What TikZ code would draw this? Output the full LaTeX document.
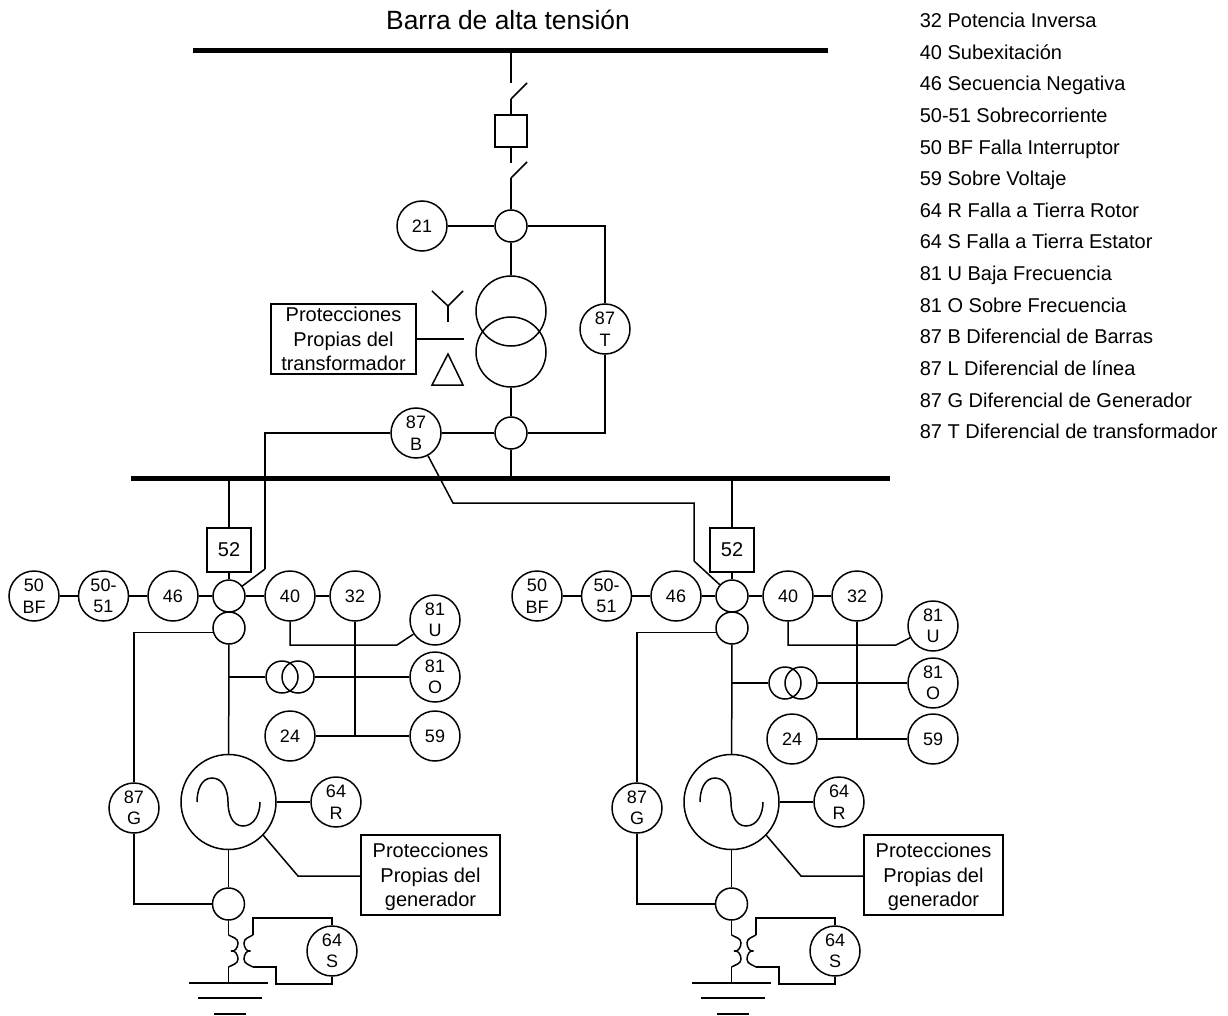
\documentclass[tikz,border=0pt]{standalone}
\usepackage{fontspec}
\setmainfont{Liberation Sans}
\usetikzlibrary{positioning}
\tikzset{
  relay/.style={circle, draw, minimum size=50pt, inner sep=0pt, align=center, font=\fontsize{18}{21.5}\selectfont},
  ct/.style={circle, draw, minimum size=32pt, inner sep=0pt},
  caja/.style={draw, inner sep=0pt, align=center, font=\fontsize{20}{24.3}\selectfont},
  leyenda/.style={anchor=base west, inner sep=0pt, font=\fontsize{20}{24}\selectfont},
  barra/.style={line width=5pt}
}
\begin{document}
\begin{tikzpicture}[x=1pt, y=-1pt, line width=1.5pt, on grid]
      \useasboundingbox (0,0) rectangle (1228,1016);

      % Legend
      \node[leyenda] (ley1) at (919,27.5) {32 Potencia Inversa};
      \node[leyenda] (ley2) at (919,59.5) {40 Subexitación};
      \node[leyenda] (ley3) at (919,90.5) {46 Secuencia Negativa};
      \node[leyenda] (ley4) at (919,122.5) {50-51 Sobrecorriente};
      \node[leyenda] (ley5) at (919,154.5) {50 BF Falla Interruptor};
      \node[leyenda] (ley6) at (919,185.5) {59 Sobre Voltaje};
      \node[leyenda] (ley7) at (919,217.5) {64 R Falla a Tierra Rotor};
      \node[leyenda] (ley8) at (919,248.5) {64 S Falla a Tierra Estator};
      \node[leyenda] (ley9) at (919,280.5) {81 U Baja Frecuencia};
      \node[leyenda] (ley10) at (919,312.5) {81 O Sobre Frecuencia};
      \node[leyenda] (ley11) at (919,343.5) {87 B Diferencial de Barras};
      \node[leyenda] (ley12) at (919,375.5) {87 L Diferencial de línea};
      \node[leyenda] (ley13) at (919,407.5) {87 G Diferencial de Generador};
      \node[leyenda] (ley14) at (919,438.5) {87 T Diferencial de transformador};

      % Nodes for the high voltage side
      \node[font=\fontsize{26.4}{30}\selectfont] (titulo) at (508,20) {Barra de alta tensión};
      \coordinate (alta1) at (193,51);
      \coordinate (alta2) at (828,51);
      \coordinate (altasal) at (511,51);
      \coordinate (secc1a) at (511,83);
      \coordinate (secc1b) at (511,99);
      \coordinate (secc1c) at (527,83);
      \node[draw, minimum size=32pt, inner sep=0pt] (inter) at (511,131) {};
      \coordinate (secc2a) at (511,163);
      \coordinate (secc2b) at (511,178);
      \coordinate (secc2c) at (527,162);
      \node[ct] (cttop) at (511,226) {};
      \node[relay] (dist) [left=89pt of cttop] {21};
      \coordinate (codot) at (605,226);
      \node[circle, draw, minimum size=70pt, inner sep=0pt] (trafo1) at (511,311) {};
      \node[circle, draw, minimum size=70pt, inner sep=0pt] (trafo2) [below=41pt of trafo1] {};
      \node[relay] (dift) at (605,329) {87\\T};
      \node[ct] (ctbot) at (511,433) {};
      \node[relay] (difb) [left=95pt of ctbot] {87\\B};
      \node[caja, minimum width=145pt, minimum height=70pt] (protrafo) at (343.5,339) {Protecciones\\Propias del\\transformador};
      \coordinate (protsal) at (464,339);
      \coordinate (estrella) at (448,306);

      % Main bus
      \coordinate (bus1) at (131,478);
      \coordinate (bus2) at (890,478);
      \coordinate (buscen) at (511,478);
      \coordinate (busizq) at (229,478);
      \coordinate (busder) at (732,478);
      \coordinate (codo1) at (265,569);
      \coordinate (codo2) at (453,503);
      \coordinate (codo3) at (694,503);
      \coordinate (codo4) at (694,561);

      % Edges for the high voltage side
      \draw[barra] (alta1) -- (alta2);
      \draw[barra] (bus1) -- (bus2);
      \path
        (altasal) edge (secc1a)
        (secc1b) edge (secc1c)
        (secc1b) edge (inter)
        (inter) edge (secc2a)
        (secc2b) edge (secc2c)
        (secc2b) edge (cttop)
        (dist) edge (cttop)
        (cttop) edge (trafo1)
        (trafo2) edge (ctbot)
        (ctbot) edge (buscen)
        (difb) edge (ctbot)
        (protrafo.east |- protsal) edge (protsal);
      \draw (cttop) -- (codot) -- (dift);
      \draw (dift) |- (ctbot);
      \draw (difb) -| (codo1);
      \draw (difb) -- (codo2) -- (codo3) -- (codo4);

      % Winding symbols
      \draw (432,291) -- (estrella) -- (463,291);
      \draw (estrella) -- (448,322);
      \draw (448,354) -- (432,385) -- (463,385) -- cycle;

      % Nodes for generator 1
      \node[caja, minimum size=44pt, font=\fontsize{20}{24}\selectfont] (int1) at (229,550) {52};
      \node[ct] (cta1) at (229,596) {};
      \node[ct] (ctb1) [below=32pt of cta1] {};
      \node[relay] (neg1) [left=56pt of cta1] {46};
      \node[relay] (sob1) [left=69.5pt of neg1] {50-\\51};
      \node[relay] (bf1) [left=69.5pt of sob1] {50\\BF};
      \node[relay] (sub1) [right=61pt of cta1] {40};
      \node[relay] (pot1) [right=65pt of sub1] {32};
      \node[relay] (ufr1) at (435,620) {81\\U};
      \node[relay] (ofr1) at (435,677) {81\\O};
      \node[relay] (hz1) at (290,736) {24};
      \node[relay] (vol1) at (435,736) {59};
      \node[ct] (tma1) at (282,677) {};
      \node[ct] (tmb1) [right=16pt of tma1] {};
      \coordinate (ram1) at (229,677);
      \coordinate (cru1) at (355,736);
      \coordinate (cod1) at (397,645);
      \node[circle, draw, minimum size=95pt, inner sep=0pt] (gen1) at (228.5,802) {};
      \node[relay] (rot1) at (336,802) {64\\R};
      \node[relay] (dig1) at (134,808) {87\\G};
      \node[ct] (cte1) at (228.5,904) {};
      \node[relay] (est1) at (332,951) {64\\S};
      \node[caja, minimum width=139pt, minimum height=80pt] (prog1) at (430.5,875) {Protecciones\\Propias del\\\smash{generador}};
      \coordinate (pg1a) at (263,835);
      \coordinate (pg1b) at (298,876);
      \coordinate (pri1a) at (228.5,935);
      \coordinate (pri1b) at (228.5,967);
      \coordinate (tie1) at (228.5,983);
      \coordinate (sec1a) at (253,935);
      \coordinate (sec1b) at (253,967);
      \coordinate (ret1a) at (253,918);
      \coordinate (ret1b) at (276,967);
      \coordinate (ret1c) at (276,984);

      % Edges for generator 1
      \path
        (busizq) edge (int1)
        (int1) edge (cta1)
        (bf1) edge (sob1)
        (sob1) edge (neg1)
        (neg1) edge (cta1)
        (cta1) edge (sub1)
        (sub1) edge (pot1)
        (ctb1) edge (gen1)
        (ram1) edge (tma1)
        (tmb1) edge (ofr1)
        (hz1) edge (vol1)
        (pot1) edge (cru1)
        (gen1) edge (rot1)
        (gen1) edge (cte1)
        (cte1) edge (pri1a)
        (pri1b) edge (tie1);
      \draw (codo1) -- (cta1);
      \draw (sub1) |- (cod1) -- (ufr1);
      \draw (pg1a) -- (pg1b) -- (prog1.west |- pg1b);
      \draw (ctb1.195) -| (dig1);
      \draw (dig1) |- (cte1);
      \draw (sec1a) -- (ret1a) -| (est1);
      \draw (sec1b) -- (ret1b) -- (ret1c) -| (est1);

      % Symbols for generator 1
      \draw (197,802) to[out=90,in=180] (212,778) to[out=0,in=90] (228,802) to[out=-90,in=180] (243,826) to[out=0,in=-90] (260,802);
      \draw (pri1a) to[out=-30,in=90] (238,943) to[out=-90,in=-20] (231,951) to[out=20,in=90] (238,959) to[out=-90,in=30] (pri1b);
      \draw (sec1a) to[out=-150,in=90] (244,943) to[out=-90,in=-160] (250.5,951) to[out=160,in=90] (244,959) to[out=-90,in=150] (sec1b);
      \draw (189,983) -- (268,983);
      \draw (198,998) -- (262,998);
      \draw (214,1014) -- (246,1014);

      % Nodes for generator 2
      \node[caja, minimum size=44pt, font=\fontsize{20}{24}\selectfont] (int2) at (732,550) {52};
      \node[ct] (cta2) at (732,596) {};
      \node[ct] (ctb2) [below=32pt of cta2] {};
      \node[relay] (neg2) [left=56pt of cta2] {46};
      \node[relay] (sob2) [left=69.5pt of neg2] {50-\\51};
      \node[relay] (bf2) [left=69.5pt of sob2] {50\\BF};
      \node[relay] (sub2) [right=56pt of cta2] {40};
      \node[relay] (pot2) [right=69pt of sub2] {32};
      \node[relay] (ufr2) at (933,626) {81\\U};
      \node[relay] (ofr2) at (933,683) {81\\O};
      \node[relay] (hz2) at (792,739) {24};
      \node[relay] (vol2) at (933,739) {59};
      \node[ct] (tma2) at (785,683) {};
      \node[ct] (tmb2) [right=16pt of tma2] {};
      \coordinate (ram2) at (732,683);
      \coordinate (cru2) at (857,739);
      \coordinate (cod2) at (896,645);
      \node[circle, draw, minimum size=95pt, inner sep=0pt] (gen2) at (731.5,802) {};
      \node[relay] (rot2) at (839,802) {64\\R};
      \node[relay] (dig2) at (637,808) {87\\G};
      \node[ct] (cte2) at (731.5,904) {};
      \node[relay] (est2) at (835,951) {64\\S};
      \node[caja, minimum width=139pt, minimum height=80pt] (prog2) at (933.5,875) {Protecciones\\Propias del\\\smash{generador}};
      \coordinate (pg2a) at (766,835);
      \coordinate (pg2b) at (801,876);
      \coordinate (pri2a) at (731.5,935);
      \coordinate (pri2b) at (731.5,967);
      \coordinate (tie2) at (731.5,983);
      \coordinate (sec2a) at (756,935);
      \coordinate (sec2b) at (756,967);
      \coordinate (ret2a) at (756,918);
      \coordinate (ret2b) at (779,967);
      \coordinate (ret2c) at (779,984);

      % Edges for generator 2
      \path
        (busder) edge (int2)
        (int2) edge (cta2)
        (bf2) edge (sob2)
        (sob2) edge (neg2)
        (neg2) edge (cta2)
        (cta2) edge (sub2)
        (sub2) edge (pot2)
        (ctb2) edge (gen2)
        (ram2) edge (tma2)
        (tmb2) edge (ofr2)
        (hz2) edge (vol2)
        (pot2) edge (cru2)
        (gen2) edge (rot2)
        (gen2) edge (cte2)
        (cte2) edge (pri2a)
        (pri2b) edge (tie2);
      \draw (codo4) -- (cta2);
      \draw (sub2) |- (cod2) -- (ufr2);
      \draw (pg2a) -- (pg2b) -- (prog2.west |- pg2b);
      \draw (ctb2.195) -| (dig2);
      \draw (dig2) |- (cte2);
      \draw (sec2a) -- (ret2a) -| (est2);
      \draw (sec2b) -- (ret2b) -- (ret2c) -| (est2);

      % Symbols for generator 2
      \draw (700,802) to[out=90,in=180] (715,778) to[out=0,in=90] (731,802) to[out=-90,in=180] (746,826) to[out=0,in=-90] (763,802);
      \draw (pri2a) to[out=-30,in=90] (741,943) to[out=-90,in=-20] (734,951) to[out=20,in=90] (741,959) to[out=-90,in=30] (pri2b);
      \draw (sec2a) to[out=-150,in=90] (747,943) to[out=-90,in=-160] (753.5,951) to[out=160,in=90] (747,959) to[out=-90,in=150] (sec2b);
      \draw (692,983) -- (771,983);
      \draw (701,998) -- (765,998);
      \draw (717,1014) -- (749,1014);

\end{tikzpicture}
\end{document}
